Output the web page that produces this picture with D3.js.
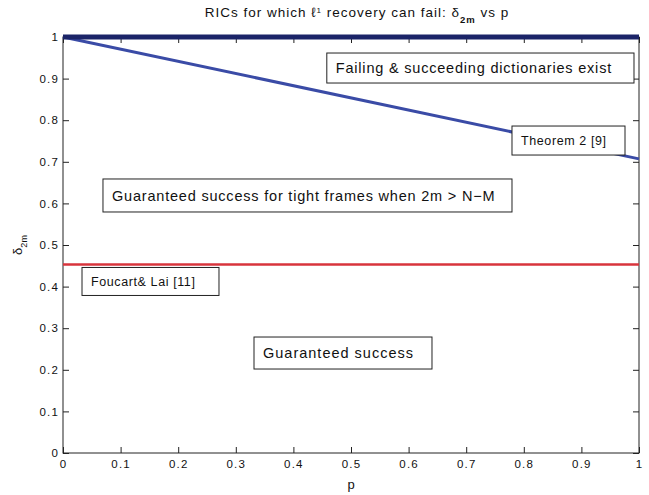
<!DOCTYPE html>
<html>
<head>
<meta charset="utf-8">
<script src="https://cdn.jsdelivr.net/npm/d3@7"></script>
<style>
  body { margin: 0; background: #fff; }
  text { font-family: "Liberation Sans", Arial, Helvetica, sans-serif; fill: #111; }
</style>
</head>
<body>
<svg id="chart" width="649" height="495"></svg>
<script>
// ---- data ----
const pValues = [0, 1];
const failBound = [1, 1];                 // RIC ceiling: failing & succeeding dictionaries
const theorem2Bound = [1, 0.7071];        // Theorem 2 [9]
const foucartLaiBound = [0.4531, 0.4531]; // Foucart & Lai [11]
const xTicks = [0, 0.1, 0.2, 0.3, 0.4, 0.5, 0.6, 0.7, 0.8, 0.9, 1];
const yTicks = [0, 0.1, 0.2, 0.3, 0.4, 0.5, 0.6, 0.7, 0.8, 0.9, 1];
const tickLabels = ["0", "0.1", "0.2", "0.3", "0.4", "0.5", "0.6", "0.7", "0.8", "0.9", "1"];
const regionLabels = [
  "Failing & succeeding dictionaries exist",
  "Theorem 2 [9]",
  "Guaranteed success for tight frames when 2m > N\u2212M",
  "Foucart& Lai [11]",
  "Guaranteed success"
];

// ---- layout ----
const svg = d3.select("#chart");
const W = 649, H = 495;
const plot = { left: 63, right: 639, top: 37, bottom: 453 };

svg.append("rect").attr("width", W).attr("height", H).attr("fill", "#fff");

const x = d3.scaleLinear().domain([0, 1]).range([plot.left, plot.right]);
const y = d3.scaleLinear().domain([0, 1]).range([plot.bottom, plot.top]);

const tick = 6;

function styleAxis(g) {
  g.select(".domain").remove();
  g.selectAll(".tick line").attr("stroke", "#222").attr("stroke-width", 1);
  g.selectAll(".tick text")
    .attr("font-size", 11.5)
    .attr("letter-spacing", 1.2)
    .attr("fill", "#111")
    .attr("font-family", "Liberation Sans, Arial, sans-serif");
}

// axes with inward ticks on all four sides
svg.append("g").attr("transform", `translate(0,${plot.bottom})`)
  .call(d3.axisBottom(x).tickValues(xTicks).tickFormat((d) => tickLabels[xTicks.indexOf(d)])
    .tickSizeInner(-tick).tickSizeOuter(0).tickPadding(7))
  .call(styleAxis);
svg.append("g").attr("transform", `translate(0,${plot.top})`)
  .call(d3.axisTop(x).tickValues(xTicks).tickFormat("").tickSizeInner(-tick).tickSizeOuter(0))
  .call(styleAxis);
svg.append("g").attr("transform", `translate(${plot.left},0)`)
  .call(d3.axisLeft(y).tickValues(yTicks).tickFormat((d) => tickLabels[yTicks.indexOf(d)])
    .tickSizeInner(-tick).tickSizeOuter(0).tickPadding(4))
  .call(styleAxis);
svg.append("g").attr("transform", `translate(${plot.right},0)`)
  .call(d3.axisRight(y).tickValues(yTicks).tickFormat("").tickSizeInner(-tick).tickSizeOuter(0))
  .call(styleAxis);

// frame
svg.append("rect")
  .attr("x", plot.left).attr("y", plot.top)
  .attr("width", plot.right - plot.left).attr("height", plot.bottom - plot.top)
  .attr("fill", "none").attr("stroke", "#222").attr("stroke-width", 1);

// ---- bound lines ----
const line = d3.line().x((d) => x(d[0])).y((d) => y(d[1]));
const series = [
  { values: foucartLaiBound, color: "#d8343c", width: 2.6 },
  { values: theorem2Bound, color: "#3a4ba6", width: 3 },
  { values: failBound, color: "#1b2468", width: 5 }
];
series.forEach((s) => {
  svg.append("path")
    .datum(pValues.map((p, i) => [p, s.values[i]]))
    .attr("d", line)
    .attr("fill", "none")
    .attr("stroke", s.color)
    .attr("stroke-width", s.width);
});

// ---- region labels in boxes (box corners in data units) ----
const boxes = [
  { x0: 0.458,  x1: 0.9913, top: 0.9615, h: 30, size: 14.5, ls: 0.8 },
  { x0: 0.7795, x1: 0.9757, top: 0.786,  h: 29, size: 12.5, ls: 0.6 },
  { x0: 0.0694, x1: 0.7795, top: 0.6587, h: 33, size: 14.5, ls: 0.8 },
  { x0: 0.033,  x1: 0.2708, top: 0.446,  h: 28, size: 12.5, ls: 0.6 },
  { x0: 0.3316, x1: 0.6406, top: 0.2788, h: 32, size: 14.5, ls: 1.0 }
];
const padX = 9;
regionLabels.forEach((label, i) => {
  const b = boxes[i];
  const g = svg.append("g");
  const bx = x(b.x0), by = y(b.top);
  g.append("rect")
    .attr("x", bx).attr("y", by)
    .attr("width", x(b.x1) - bx).attr("height", b.h)
    .attr("fill", "#fff").attr("stroke", "#222").attr("stroke-width", 1);
  g.append("text")
    .attr("x", bx + padX)
    .attr("y", by + b.h / 2 + 0.36 * b.size)
    .attr("font-size", b.size)
    .attr("letter-spacing", b.ls)
    .text(label);
});

// ---- title ----
const title = svg.append("text")
  .attr("x", (plot.left + plot.right) / 2 + 6)
  .attr("y", 17)
  .attr("text-anchor", "middle")
  .attr("font-size", 13.5)
  .attr("letter-spacing", 1);
title.append("tspan").text("RICs for which \u2113");
title.append("tspan").attr("baseline-shift", "super").attr("font-size", 8).text("1");
title.append("tspan").text(" recovery can fail: \u03b4");
title.append("tspan").attr("baseline-shift", "sub").attr("font-size", 9.5).attr("font-weight", "bold").text("2m");
title.append("tspan").text(" vs p");

// ---- axis labels ----
svg.append("text")
  .attr("x", x(0.5))
  .attr("y", 489)
  .attr("text-anchor", "middle")
  .attr("font-size", 13)
  .text("p");

const yl = svg.append("text")
  .attr("transform", `translate(22,${y(0.5)}) rotate(-90)`)
  .attr("text-anchor", "middle")
  .attr("font-size", 13);
yl.append("tspan").text("\u03b4");
yl.append("tspan").attr("baseline-shift", "sub").attr("font-size", 9).text("2m");
</script>
</body>
</html>
